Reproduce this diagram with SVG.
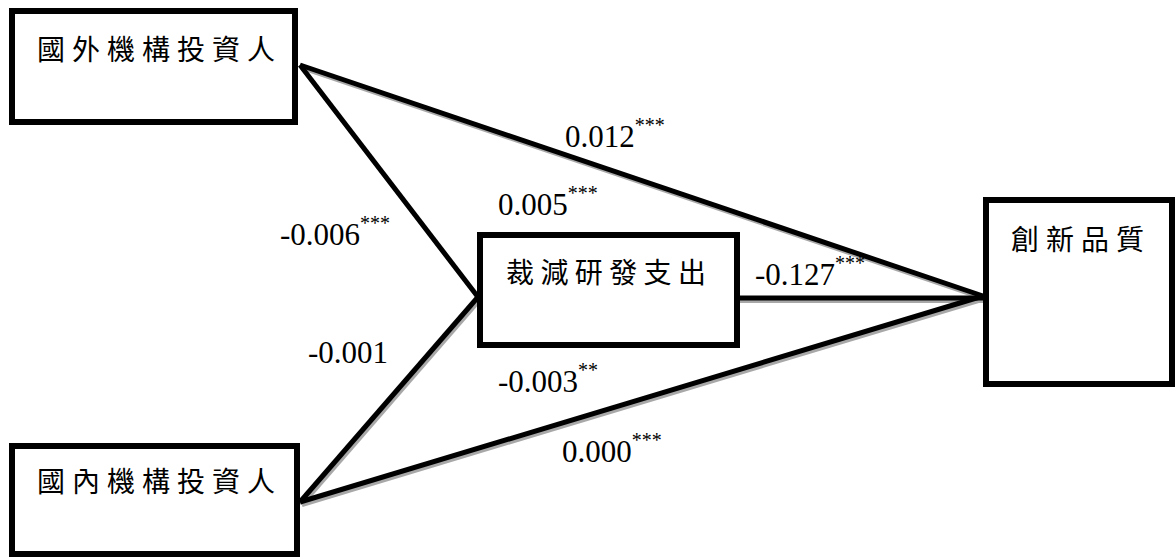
<svg xmlns="http://www.w3.org/2000/svg" width="1175" height="558" viewBox="0 0 1175 558">
  <style>
    .box { fill: #ffffff; stroke: #000000; stroke-width: 6; }
    .node-label { font-family: "Noto Sans CJK TC", "Noto Sans CJK SC", sans-serif; font-size: 28px; fill: #000000; letter-spacing: 7px; }
    .edge { stroke: #000000; stroke-width: 5; fill: none; stroke-linecap: butt; }
    .edge-shadow { stroke: #a8a8a8; stroke-width: 4; fill: none; }
    .coef { font-family: "Liberation Serif", "Times New Roman", serif; font-size: 31px; fill: #000000; }
    .sig { font-size: 20px; }
  </style>
  <rect width="1175" height="558" fill="#ffffff"/>

  <!-- paths: gray drop shadow first, black stroke on top -->
  <g id="connectors">
    <g transform="translate(2,3)">
      <line class="edge-shadow" x1="300" y1="65" x2="983" y2="296"/>
      <line class="edge-shadow" x1="300" y1="65" x2="478" y2="297"/>
      <line class="edge-shadow" x1="300" y1="502" x2="478" y2="297"/>
      <line class="edge-shadow" x1="300" y1="502" x2="983" y2="296"/>
      <line class="edge-shadow" x1="737" y1="298" x2="983" y2="298"/>
    </g>
    <line class="edge" x1="300" y1="65" x2="983" y2="296"/>
    <line class="edge" x1="300" y1="65" x2="478" y2="297"/>
    <line class="edge" x1="300" y1="502" x2="478" y2="297"/>
    <line class="edge" x1="300" y1="502" x2="983" y2="296"/>
    <line class="edge" x1="737" y1="298" x2="983" y2="298"/>
  </g>

  <g id="foreign-investors">
    <rect class="box" x="12" y="11" width="283" height="111"/>
    <text class="node-label" x="37" y="60">國外機構投資人</text>
  </g>

  <g id="domestic-investors">
    <rect class="box" x="12" y="446" width="285" height="108"/>
    <text class="node-label" x="37" y="492">國內機構投資人</text>
  </g>

  <g id="rd-cut">
    <rect class="box" x="480" y="235" width="257" height="110"/>
    <text class="node-label" x="506" y="283" style="letter-spacing:6.4px">裁減研發支出</text>
  </g>

  <g id="innovation-quality">
    <rect class="box" x="986" y="200" width="186" height="184"/>
    <text class="node-label" x="1011" y="250">創新品質</text>
  </g>

  <!-- path coefficients -->
  <g id="coefficients">
    <text class="coef" x="565" y="147">0.012<tspan class="sig" dy="-15">***</tspan></text>
    <text class="coef" x="498" y="215">0.005<tspan class="sig" dy="-15">***</tspan></text>
    <text class="coef" x="280" y="245">-0.006<tspan class="sig" dy="-15">***</tspan></text>
    <text class="coef" x="755" y="285">-0.127<tspan class="sig" dy="-15">***</tspan></text>
    <text class="coef" x="308" y="363">-0.001</text>
    <text class="coef" x="498" y="392">-0.003<tspan class="sig" dy="-15">**</tspan></text>
    <text class="coef" x="562" y="462">0.000<tspan class="sig" dy="-15">***</tspan></text>
  </g>
</svg>
